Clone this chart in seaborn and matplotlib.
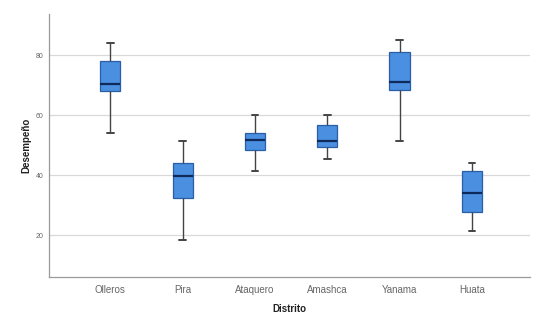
import numpy as np
import pandas as pd
import matplotlib
matplotlib.use("Agg")
import matplotlib.pyplot as plt
import seaborn as sns

distritos = ["Olleros", "Pira", "Ataquero", "Amashca", "Yanama", "Huata"]
# five-number summaries per district: min, q1, median, q3, max
olleros = [54.2, 68.1, 70.3, 78.1, 84.2]
pira = [18.4, 32.3, 39.6, 44.2, 51.3]
ataquero = [41.3, 48.3, 51.6, 54.2, 60.0]
amashca = [45.4, 49.4, 51.4, 56.7, 60.0]
yanama = [51.3, 68.6, 71.2, 81.2, 85.1]
huata = [21.4, 27.6, 34.0, 41.3, 44.2]
yticks = [20, 40, 60, 80]

series = [olleros, pira, ataquero, amashca, yanama, huata]
df = pd.DataFrame({
    "Distrito": np.repeat(distritos, [len(s) for s in series]),
    "Desempeño": np.concatenate(series),
})

sns.set_theme(style="white")
plt.rcParams['font.family'] = ['Liberation Sans', 'DejaVu Sans']

fig = plt.figure(figsize=(5.49, 3.22), dpi=100)
ax = fig.add_axes([0.089, 0.14, 0.876, 0.818])

ax.set_axisbelow(True)
for t in yticks:
    ax.axhline(t, color="#d9d9d9", lw=0.9, zorder=0)

sns.boxplot(data=df, x="Distrito", y="Desempeño", order=distritos, ax=ax,
            whis=np.inf, width=0.28, color="#4a8fe0",
            boxprops=dict(facecolor="#4a8fe0", edgecolor="#2a5fa8", linewidth=0.9),
            medianprops=dict(color="#0d2a5a", linewidth=1.6),
            whiskerprops=dict(color="#444444", linewidth=1.0),
            capprops=dict(color="#444444", linewidth=1.4),
            capwidths=0.09)

ax.set_xlim(-0.85, 5.8)
ax.set_ylim(6, 94)
ax.set_yticks(yticks)
ax.tick_params(axis="y", labelsize=5, colors="#666666", length=0, pad=4)
ax.tick_params(axis="x", labelsize=7, colors="#666666", length=0, pad=6)
for s in ["top", "right"]:
    ax.spines[s].set_visible(False)
for s in ["left", "bottom"]:
    ax.spines[s].set_color("#999999")
    ax.spines[s].set_linewidth(0.9)
ax.set_xlabel("Distrito", fontsize=7, fontweight="bold", color="#222222", labelpad=6)
ax.set_ylabel("Desempeño", fontsize=7, fontweight="bold", color="#222222", labelpad=3)

fig.savefig("out.png", dpi=100)
